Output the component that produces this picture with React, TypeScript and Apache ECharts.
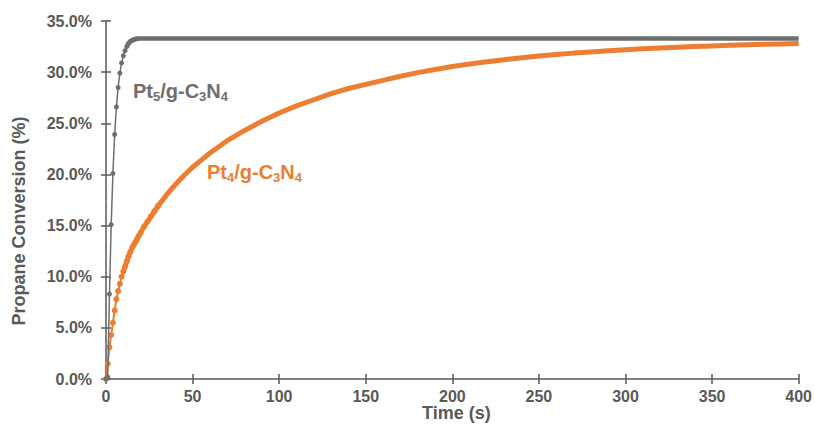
import React, { useEffect, useRef } from "react";
import * as echarts from "echarts";

// Pt5/g-C3N4 (gray) — time (s) and conversion (%)
const time5 = [0, 1, 2, 3, 4, 5, 6, 7, 8, 9, 10, 11, 12, 13, 14, 15, 16, 17, 18, 20, 22, 25, 30, 40, 60, 100, 150, 200, 250, 300, 350, 400];
const conv5 = [0, 0.2, 8.3, 15.1, 20.1, 23.9, 26.6, 28.5, 29.9, 30.9, 31.6, 32.1, 32.5, 32.8, 33.0, 33.1, 33.18, 33.23, 33.27, 33.3, 33.3, 33.3, 33.3, 33.3, 33.3, 33.3, 33.3, 33.3, 33.3, 33.3, 33.3, 33.3];

// Pt4/g-C3N4 (orange)
const time4 = [0, 1, 2, 3, 4, 5, 6, 7, 8, 9, 10, 11, 12, 13, 14, 15, 16, 17, 18, 19, 20, 22, 24, 26, 28, 30, 35, 40, 45, 50, 55, 60, 70, 80, 90, 100, 110, 120, 130, 140, 150, 160, 170, 180, 190, 200, 210, 220, 230, 240, 250, 260, 270, 280, 290, 300, 310, 320, 330, 340, 350, 360, 370, 380, 390, 400];
const conv4 = [0, 1.5, 3.1, 4.3, 5.5, 6.7, 7.8, 8.6, 9.3, 10.0, 10.5, 11.0, 11.5, 12.0, 12.4, 12.8, 13.1, 13.4, 13.7, 14.0, 14.3, 14.9, 15.4, 15.9, 16.4, 16.9, 18.0, 19.0, 19.9, 20.7, 21.4, 22.1, 23.3, 24.3, 25.2, 26.0, 26.7, 27.3, 27.9, 28.4, 28.8, 29.2, 29.6, 29.95, 30.25, 30.55, 30.8, 31.02, 31.22, 31.4, 31.57, 31.72, 31.86, 31.98, 32.09, 32.19, 32.28, 32.36, 32.43, 32.5, 32.56, 32.62, 32.67, 32.72, 32.76, 32.8];

const xTicks = { min: 0, max: 400, interval: 50 };
const yTicks = { min: 0, max: 35, interval: 5 };

const GRAY = "#6e6e6e";
const ORANGE = "#ed7d31";
const AXIS = "#595959";
const FONT = "Liberation Sans, Arial, sans-serif";

function pairs(t: number[], v: number[], from: number, to: number) {
  const out: number[][] = [];
  t.forEach((x, i) => {
    if (x >= from && x <= to) out.push([x, v[i]]);
  });
  return out;
}

export default function App() {
  const ref = useRef<HTMLDivElement>(null);
  useEffect(() => {
    if (!ref.current) return;
    const chart = echarts.init(ref.current, undefined, { renderer: "svg" });
    const axisLine = { show: true, lineStyle: { color: AXIS, width: 1.5 } };
    const grid = { left: 106, right: 14, top: 21, bottom: 47 };
    const richLabel = (color: string) => ({
      m: { fontSize: 20, fontWeight: "bold", fill: color, fontFamily: FONT, lineHeight: 24 },
      s: { fontSize: 13, fontWeight: "bold", fill: color, fontFamily: FONT, lineHeight: 13, verticalAlign: "bottom" },
    });
    chart.setOption({
      animation: false,
      backgroundColor: "#ffffff",
      grid,
      xAxis: [
        {
          type: "value", ...xTicks, axisLine,
          axisTick: { show: true, length: 5, lineStyle: { color: AXIS, width: 1.5 } },
          axisLabel: { color: AXIS, fontSize: 16, fontWeight: "bold", fontFamily: FONT, margin: 9 },
          splitLine: { show: false },
        },
        {
          type: "value", ...xTicks, position: "bottom", axisLine: { show: false },
          axisTick: { show: true, inside: true, length: 5, lineStyle: { color: AXIS, width: 1.5 } },
          axisLabel: { show: false }, splitLine: { show: false },
        },
      ],
      yAxis: [
        {
          type: "value", ...yTicks, axisLine,
          axisTick: { show: true, length: 5, lineStyle: { color: AXIS, width: 1.5 } },
          axisLabel: {
            color: AXIS, fontSize: 16, fontWeight: "bold", fontFamily: FONT, margin: 14,
            formatter: (v: number) => v.toFixed(1) + "%",
          },
          splitLine: { show: false },
        },
        {
          type: "value", ...yTicks, position: "left", axisLine: { show: false },
          axisTick: { show: true, inside: true, length: 5, lineStyle: { color: AXIS, width: 1.5 } },
          axisLabel: { show: false }, splitLine: { show: false },
        },
      ],
      series: [
        {
          type: "line", data: pairs(time4, conv4, 10, 400), showSymbol: false,
          lineStyle: { color: ORANGE, width: 5 }, itemStyle: { color: ORANGE }, z: 2,
        },
        {
          type: "line", data: pairs(time4, conv4, 0, 30), symbol: "circle", symbolSize: 6,
          lineStyle: { color: ORANGE, width: 2 }, itemStyle: { color: ORANGE }, z: 3,
        },
        {
          type: "line", data: pairs(time5, conv5, 12, 400), showSymbol: false,
          lineStyle: { color: GRAY, width: 4.5 }, itemStyle: { color: GRAY }, z: 4,
        },
        {
          type: "line", data: pairs(time5, conv5, 0, 18), symbol: "circle", symbolSize: 5,
          lineStyle: { color: GRAY, width: 1.5 }, itemStyle: { color: GRAY }, z: 5,
        },
      ],
      graphic: [
        {
          type: "text", left: 462 - 40, top: 404,
          style: { text: "Time (s)", fontSize: 18, fontWeight: "bold", fill: AXIS, fontFamily: FONT, width: 80, align: "center" },
        },
        {
          type: "text", x: 19, y: 221, rotation: Math.PI / 2,
          style: { text: "Propane Conversion (%)", fontSize: 18, fontWeight: "bold", fill: AXIS, fontFamily: FONT, align: "center", verticalAlign: "middle" },
        },
        {
          type: "text", x: 133, y: 79,
          style: { text: "{m|Pt}{s|5}{m|/g-C}{s|3}{m|N}{s|4}", rich: richLabel(GRAY) },
        },
        {
          type: "text", x: 207, y: 160,
          style: { text: "{m|Pt}{s|4}{m|/g-C}{s|3}{m|N}{s|4}", rich: richLabel(ORANGE) },
        },
      ],
    });
    return () => chart.dispose();
  }, []);
  return <div ref={ref} style={{ width: 815, height: 426, position: "absolute", left: 0, top: 0 }} />;
}
